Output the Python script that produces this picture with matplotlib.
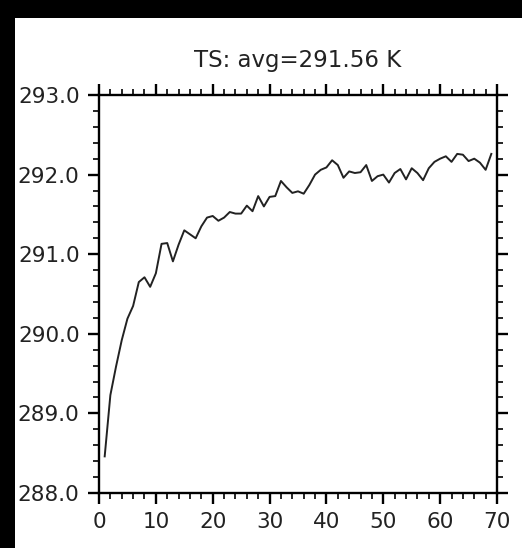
import numpy as np
import matplotlib
matplotlib.use("Agg")
import matplotlib.pyplot as plt
from matplotlib.patches import Rectangle
from matplotlib.ticker import MultipleLocator, FormatStrFormatter

# Series (one value per step, steps 1..69)
steps = list(range(1, 70))
ts = [288.46, 289.23, 289.59, 289.92, 290.19, 290.35, 290.65, 290.71, 290.59, 290.76,
      291.13, 291.14, 290.91, 291.12, 291.30, 291.25, 291.20, 291.35, 291.46, 291.48,
      291.42, 291.46, 291.53, 291.51, 291.51, 291.61, 291.54, 291.73, 291.60, 291.72,
      291.73, 291.92, 291.84, 291.77, 291.79, 291.76, 291.87, 292.00, 292.06, 292.09,
      292.18, 292.12, 291.96, 292.04, 292.02, 292.03, 292.12, 291.92, 291.98, 292.00,
      291.90, 292.02, 292.07, 291.94, 292.08, 292.02, 291.93, 292.08, 292.16, 292.20,
      292.23, 292.16, 292.26, 292.25, 292.17, 292.20, 292.15, 292.06, 292.26]
title = "TS: avg=291.56 K"

fig = plt.figure(figsize=(5.22, 5.48), dpi=100)
fig.patch.set_facecolor("black")
# white page with black strips on the top and left edges
fig.patches.append(Rectangle((15 / 522, 0), 1, 1 - 18 / 548, transform=fig.transFigure,
                             facecolor="white", edgecolor="none", zorder=-1))

ax = fig.add_axes([99 / 522, 1 - 493 / 548, 398 / 522, 398 / 548])
ax.plot(steps, ts, color="#222222", lw=1.4)

ax.set_xlim(0, 70)
ax.set_ylim(288, 293)
ax.xaxis.set_major_locator(MultipleLocator(10))
ax.xaxis.set_minor_locator(MultipleLocator(2))
ax.yaxis.set_major_locator(MultipleLocator(1))
ax.yaxis.set_minor_locator(MultipleLocator(0.2))
ax.yaxis.set_major_formatter(FormatStrFormatter("%.1f"))

for s in ax.spines.values():
    s.set_linewidth(1.7)
ax.tick_params(which="both", direction="out", top=True, right=True,
               labelsize=15.5, colors="black", labelcolor="#222222")
ax.tick_params(which="major", length=8, width=1.7)
ax.tick_params(which="minor", length=4.5, width=1.2)
ax.tick_params(axis="x", which="major", pad=6)
ax.tick_params(axis="y", which="major", pad=6)

ax.set_title(title, fontsize=16.5, pad=20, color="#222222")

fig.savefig("out.png", dpi=100, facecolor=fig.get_facecolor())
